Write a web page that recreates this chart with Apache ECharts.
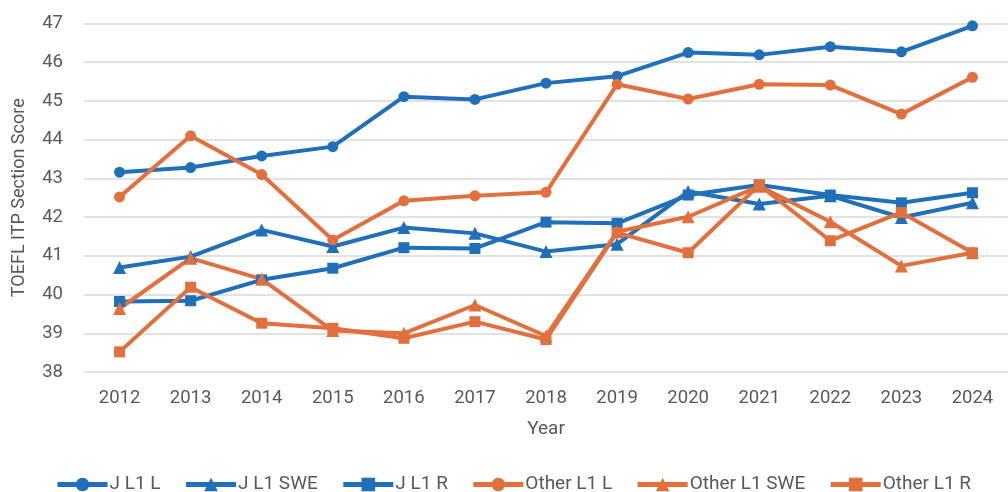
<!DOCTYPE html>
<html>
<head>
<meta charset="utf-8">
<script src="https://cdn.jsdelivr.net/npm/echarts@6/dist/echarts.min.js"></script>
<style>
  html, body { margin: 0; padding: 0; background: #fff; }
  #chart { width: 1008px; height: 492px; }
</style>
</head>
<body>
<div id="chart"></div>
<script>
// Data
const years = ["2012", "2013", "2014", "2015", "2016", "2017", "2018", "2019", "2020", "2021", "2022", "2023", "2024"];
const jL1L = [43.16, 43.28, 43.58, 43.82, 45.11, 45.04, 45.46, 45.64, 46.25, 46.19, 46.40, 46.27, 46.94];
const jL1SWE = [40.70, 40.98, 41.67, 41.24, 41.73, 41.58, 41.11, 41.30, 42.66, 42.34, 42.55, 41.99, 42.37];
const jL1R = [39.82, 39.84, 40.38, 40.68, 41.21, 41.19, 41.87, 41.84, 42.57, 42.83, 42.57, 42.37, 42.63];
const otherL1L = [42.52, 44.10, 43.10, 41.41, 42.42, 42.55, 42.64, 45.43, 45.05, 45.43, 45.41, 44.66, 45.61];
const otherL1SWE = [39.64, 40.94, 40.40, 39.07, 39.00, 39.73, 38.93, 41.62, 42.01, 42.80, 41.88, 40.74, 41.08];
const otherL1R = [38.52, 40.19, 39.26, 39.13, 38.87, 39.30, 38.84, 41.60, 41.08, 42.83, 41.39, 42.12, 41.08];
const seriesNames = ["J L1 L", "J L1 SWE", "J L1 R", "Other L1 L", "Other L1 SWE", "Other L1 R"];

const blue = "#1f70b8";
const orange = "#e2703f";
const textColor = "#595959";

const chartDom = document.getElementById("chart");
const myChart = echarts.init(chartDom);

// helper for one line series
function makeSeries(name, data, color, symbol, size) {
  return {
    name: name,
    type: "line",
    data: data,
    symbol: symbol,
    symbolSize: size,
    itemStyle: { color: color },
    lineStyle: { color: color, width: 4 },
  };
}

const option = {
  animation: false,
  textStyle: { fontFamily: "Roboto, 'Liberation Sans', sans-serif" },
  grid: {
    left: 84,
    right: 0,
    top: 23.5,
    bottom: 120,
  },
  legend: {
    top: 470,
    left: 50,
    itemWidth: 50,
    itemHeight: 17,
    itemGap: 23,
    lineStyle: { width: 5 },
    textStyle: { color: textColor, fontSize: 19, padding: [0, 0, 0, -3] },
    data: seriesNames,
  },
  xAxis: {
    type: "category",
    data: years,
    name: "Year",
    nameLocation: "middle",
    nameGap: 48,
    nameTextStyle: { color: textColor, fontSize: 19 },
    axisLine: { show: false },
    axisTick: { show: false },
    axisLabel: { color: textColor, fontSize: 18.5, margin: 17 },
  },
  yAxis: {
    type: "value",
    min: 38,
    max: 47,
    interval: 1,
    name: "TOEFL ITP Section Score",
    nameLocation: "middle",
    nameGap: 56,
    nameTextStyle: { color: textColor, fontSize: 18 },
    axisLabel: { color: textColor, fontSize: 18.5, margin: 21 },
    splitLine: { lineStyle: { color: "#d9d9d9", width: 1.5 } },
  },
  series: [
    makeSeries(seriesNames[0], jL1L, blue, "circle", 11),
    makeSeries(seriesNames[1], jL1SWE, blue, "triangle", 13),
    makeSeries(seriesNames[2], jL1R, blue, "rect", 11),
    makeSeries(seriesNames[3], otherL1L, orange, "circle", 11),
    makeSeries(seriesNames[4], otherL1SWE, orange, "triangle", 13),
    makeSeries(seriesNames[5], otherL1R, orange, "rect", 11),
  ],
};

myChart.setOption(option);

window.addEventListener("resize", () => {
  myChart.resize();
});
</script>
</body>
</html>
